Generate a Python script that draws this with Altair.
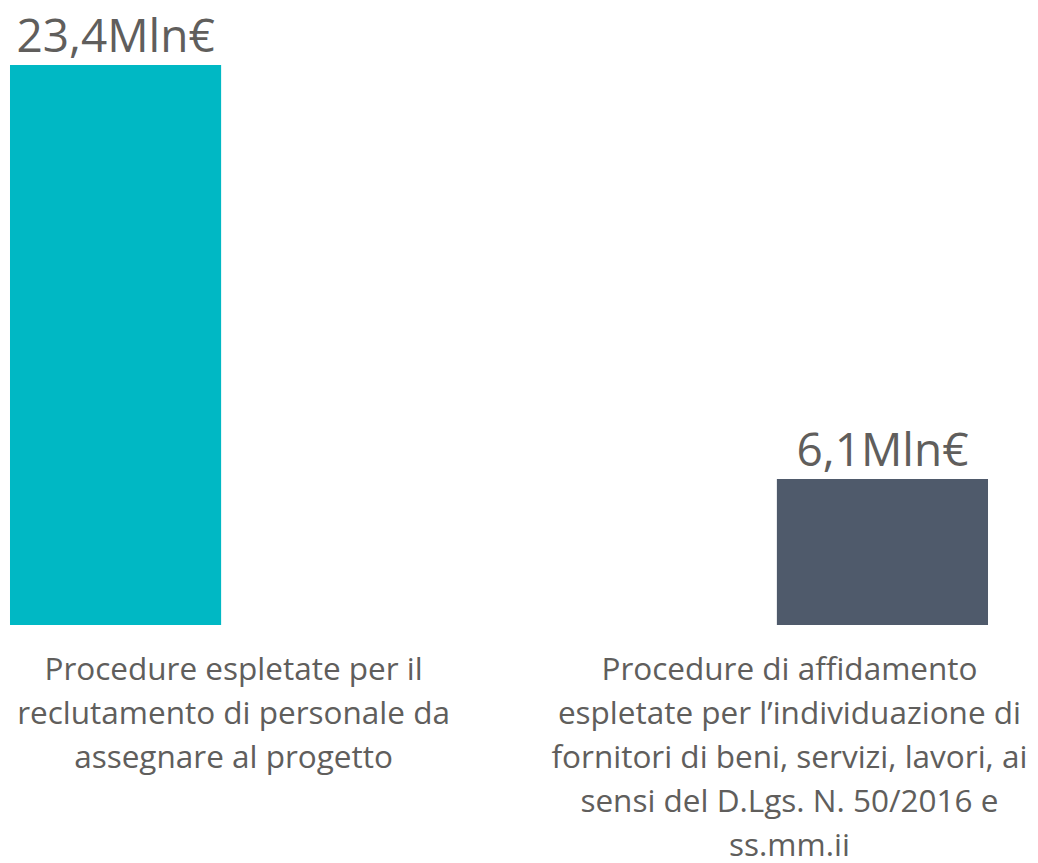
import altair as alt
import pandas as pd

category_labels = [
    "Procedure espletate per il\nreclutamento di personale da\nassegnare al progetto",
    "Procedure di affidamento\nespletate per l’individuazione di\nfornitori di beni, servizi, lavori, ai\nsensi del D.Lgs. N. 50/2016 e\nss.mm.ii",
]
values = [23.4, 6.1]
value_labels = ["23,4Mln€", "6,1Mln€"]
colors = ["#00B8C4", "#4F5A6B"]
label_shift = [118, -93]

df = pd.DataFrame({
    "label": category_labels,
    "value": values,
    "vlabel": value_labels,
    "color": colors,
})

FONT = "Open Sans"
TEXT_COLOR = "#605E5C"

x_band = alt.X("label:N", sort=None, axis=None,
               scale=alt.Scale(paddingInner=0.7247, paddingOuter=0.0026))
y_enc = alt.Y("value:Q", axis=None, scale=alt.Scale(domain=[0, 23.4], nice=False, zero=True))

base = alt.Chart(df)

bars = base.mark_bar().encode(
    x=x_band,
    y=y_enc,
    color=alt.Color("color:N", scale=None),
)

value_text = base.mark_text(
    baseline="alphabetic", align="center", dy=-13,
    fontSize=46, font=FONT, color=TEXT_COLOR,
).encode(
    x=x_band,
    y=y_enc,
    text="vlabel:N",
)

cat_layers = []
for lab, shift in zip(category_labels, label_shift):
    cat_layers.append(
        base.transform_filter(alt.datum.label == lab).mark_text(
            baseline="alphabetic", align="center", dy=55, dx=shift,
            lineBreak="\n", lineHeight=44,
            fontSize=31.5, font=FONT, color=TEXT_COLOR,
        ).encode(
            x=x_band,
            y=alt.datum(0),
            text="label:N",
        )
    )

chart = alt.layer(bars, value_text, *cat_layers).properties(
    width=982,
    height=560,
    padding={"left": 0, "top": 57, "right": 40, "bottom": 236},
    autosize=alt.AutoSizeParams(type="none"),
    background="white",
).configure_view(strokeWidth=0)

chart.save("out.html", embed_options={"renderer": "svg", "actions": False})
